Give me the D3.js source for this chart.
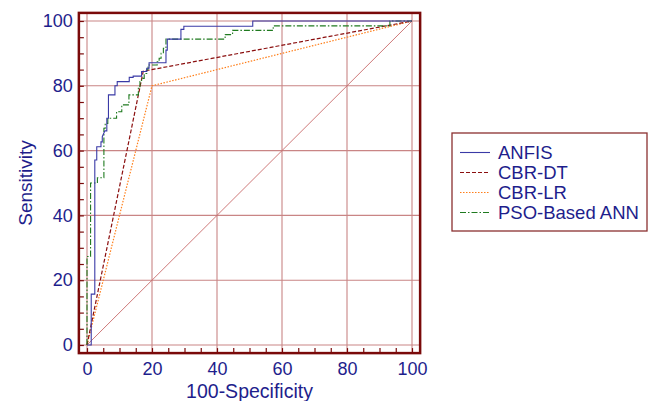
<!DOCTYPE html>
<html><head><meta charset="utf-8">
<script src="https://cdn.jsdelivr.net/npm/d3@7"></script>
<style>
html,body{margin:0;padding:0;background:#fff;}
svg{display:block;font-family:"Liberation Sans",Arial,sans-serif;}
</style></head>
<body><svg id="c" width="649" height="401"></svg>
<script>
// ---- data ----
const xTicks = [0, 20, 40, 60, 80, 100];
const yTicks = [0, 20, 40, 60, 80, 100];
const minorTicks = d3.range(0, 101, 5);

const seriesNames = ["ANFIS", "CBR-DT", "CBR-LR", "PSO-Based ANN"];

const anfisX = [0,1.3,1.3,2.4,2.4,3.0,3.0,4.3,4.3,4.7,4.7,5.5,6.1,6.1,6.6,6.6,8.6,8.6,9.3,9.3,13.0,13.0,14.2,14.2,16.8,16.8,18.4,18.4,19.1,19.1,24.3,24.3,24.7,24.7,28.9,28.9,29.8,29.8,51,51,100];
const anfisY = [0,0,15.7,15.7,57.1,57.1,61.2,61.2,62.7,62.7,64.3,66.1,66.1,70,70,77.2,77.2,80,80,81.3,81.3,82.6,82.6,83,83,84.4,84.4,85.4,85.4,87.1,87.1,91,91,94.4,94.4,97.4,97.4,98.4,98.4,100,100];

const cbrDtX = [0, 17.3, 100];
const cbrDtY = [0, 84.5, 100];

const cbrLrX = [0, 20, 100];
const cbrLrY = [0, 80, 100];

const psoX = [0,0,1.1,1.1,3.2,3.2,5.2,5.2,5.6,5.6,6.4,6.4,9.1,9.1,10.7,10.7,12.9,12.9,15.8,15.8,16.3,16.3,16.8,16.8,17.6,17.6,18.4,18.4,18.8,18.8,21.6,21.6,22.2,22.2,22.8,22.8,23.5,23.5,24.3,24.3,42.5,42.5,44.8,44.8,57.3,57.3,93.2,93.2,100];
const psoY = [0,27.3,27.3,50,50,51.6,51.6,66.9,66.9,68.4,68.4,70,70,72,72,74.1,74.1,77.2,77.2,79.7,79.7,81.3,81.3,82.3,82.3,83.8,83.8,85.1,85.1,86.4,86.4,87.4,87.4,88.5,88.5,90,90,91.6,91.6,94.4,94.4,95.8,95.8,97.1,97.1,98.5,98.5,100,100];

const refX = [0, 100];
const refY = [0, 100];

// ---- layout ----
const svg = d3.select("#c");
const x = d3.scaleLinear().domain([0, 100]).range([87, 412]);
const y = d3.scaleLinear().domain([0, 100]).range([345, 21]);
const fx0 = x(-2.5), fx1 = x(102.5), fy0 = y(102.5), fy1 = y(-2.5);
const textCol = "#1e1e8c";
const frameCol = "#7a0a0a";
const gridCol = "#c98585";

// grid
const g = svg.append("g");
g.selectAll("line.vx").data(xTicks).join("line")
  .attr("x1", d => x(d)).attr("x2", d => x(d))
  .attr("y1", fy0).attr("y2", fy1)
  .attr("stroke", gridCol).attr("stroke-width", 1.1);
g.selectAll("line.hy").data(yTicks).join("line")
  .attr("y1", d => y(d)).attr("y2", d => y(d))
  .attr("x1", fx0).attr("x2", fx1)
  .attr("stroke", gridCol).attr("stroke-width", 1.1);

// minor ticks
svg.append("g").attr("transform", `translate(${fx0},0)`)
  .call(d3.axisRight(y).tickValues(minorTicks).tickSize(5).tickFormat(""))
  .call(s => s.select(".domain").remove())
  .selectAll("line").attr("stroke", frameCol).attr("stroke-width", 1.2);
svg.append("g").attr("transform", `translate(0,${fy1})`)
  .call(d3.axisTop(x).tickValues(minorTicks).tickSize(5).tickFormat(""))
  .call(s => s.select(".domain").remove())
  .selectAll("line").attr("stroke", frameCol).attr("stroke-width", 1.2);

// reference diagonal
const lineOf = (xs, ys) => d3.line().x((d, i) => x(xs[i])).y((d, i) => y(ys[i]))(xs);
svg.append("path").attr("d", lineOf(refX, refY))
  .attr("fill", "none").attr("stroke", "#c86a6a").attr("stroke-width", 0.9);

const styles = [
  {xs: cbrLrX, ys: cbrLrY, color: "#ff7f1a", dash: "1.5,1.5", w: 1.2},
  {xs: cbrDtX, ys: cbrDtY, color: "#8b0f0f", dash: "4,2", w: 1.2},
  {xs: psoX, ys: psoY, color: "#1f7a1f", dash: "6,2,1.5,2", w: 1.1},
  {xs: anfisX, ys: anfisY, color: "#3a3aa6", dash: null, w: 1.1},
];
styles.forEach(s => {
  svg.append("path").attr("d", lineOf(s.xs, s.ys))
    .attr("fill", "none").attr("stroke", s.color).attr("stroke-width", s.w)
    .attr("stroke-dasharray", s.dash);
});

// frame
svg.append("rect").attr("x", fx0).attr("y", fy0)
  .attr("width", fx1 - fx0).attr("height", fy1 - fy0)
  .attr("fill", "none").attr("stroke", frameCol).attr("stroke-width", 2.5);

// tick labels
svg.append("g").attr("transform", `translate(0,${fy1})`)
  .call(d3.axisBottom(x).tickValues(xTicks).tickSize(0).tickPadding(9))
  .call(s => s.select(".domain").remove())
  .selectAll("text").attr("fill", textCol).attr("font-size", 18)
  .attr("font-family", "Liberation Sans, Arial, sans-serif");
svg.append("g").attr("transform", `translate(${fx0},0)`)
  .call(d3.axisLeft(y).tickValues(yTicks).tickSize(0).tickPadding(6))
  .call(s => s.select(".domain").remove())
  .selectAll("text").attr("fill", textCol).attr("font-size", 18)
  .attr("font-family", "Liberation Sans, Arial, sans-serif");

// axis titles
svg.append("text").attr("x", (x(0) + x(100)) / 2).attr("y", 398)
  .attr("text-anchor", "middle").attr("fill", textCol).attr("font-size", 19.5)
  .text("100-Specificity");
svg.append("text").attr("transform", `translate(32,${(y(0) + y(100)) / 2}) rotate(-90)`)
  .attr("text-anchor", "middle").attr("fill", textCol).attr("font-size", 19)
  .text("Sensitivity");

// legend
const lg = svg.append("g").attr("transform", "translate(452,133)");
lg.append("rect").attr("width", 195).attr("height", 98)
  .attr("fill", "#fff").attr("stroke", "#8b3030").attr("stroke-width", 1.3);
const legStyles = [styles[3], styles[1], styles[0], styles[2]];
seriesNames.forEach((name, i) => {
  const st = legStyles[i];
  const row = lg.append("g").attr("transform", `translate(0,${26 + i * 20})`);
  row.append("line").attr("x1", 8).attr("x2", 38).attr("y1", -6.5).attr("y2", -6.5)
    .attr("stroke", st.color).attr("stroke-width", st.w).attr("stroke-dasharray", st.dash);
  row.append("text").attr("x", 46).attr("y", 0).attr("fill", textCol)
    .attr("font-size", 18.5).text(name);
});
</script></body></html>
